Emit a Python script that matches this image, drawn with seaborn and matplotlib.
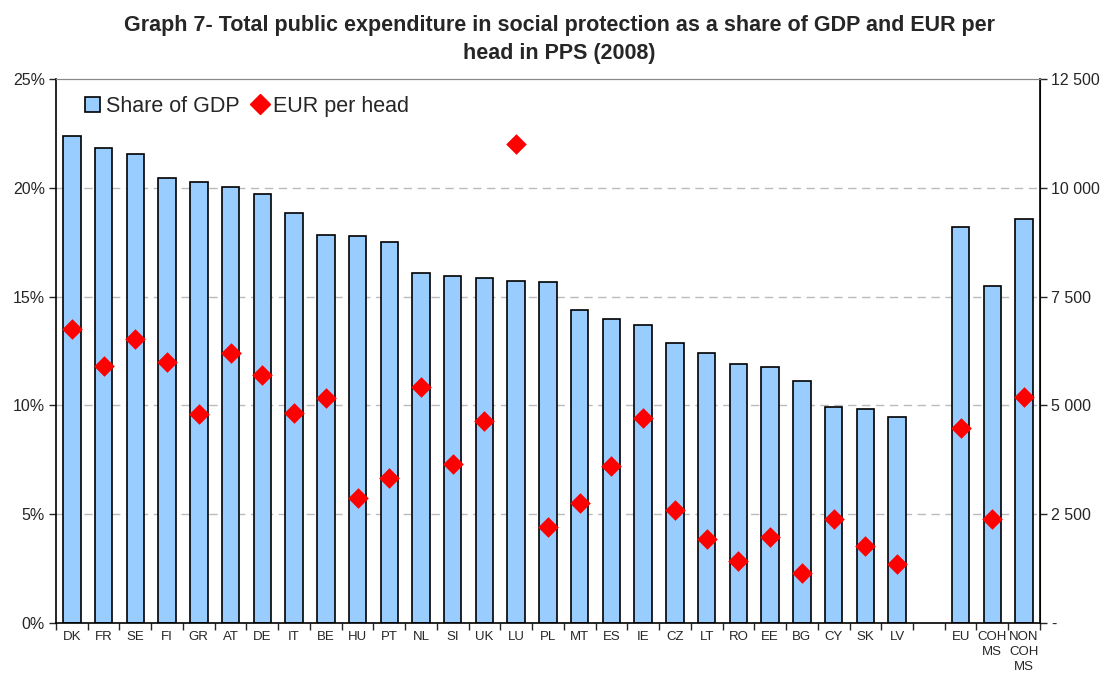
import matplotlib
matplotlib.use("Agg")
import matplotlib.pyplot as plt
import matplotlib.ticker as mticker
from matplotlib.patches import Patch
from matplotlib.lines import Line2D
import numpy as np
import pandas as pd
import seaborn as sns

countries = ["DK", "FR", "SE", "FI", "GR", "AT", "DE", "IT", "BE", "HU", "PT", "NL", "SI",
             "UK", "LU", "PL", "MT", "ES", "IE", "CZ", "LT", "RO", "EE", "BG", "CY", "SK", "LV",
             " ", "EU", "COH\nMS", "NON\nCOH\nMS"]
share_gdp = [22.38, 21.83, 21.54, 20.46, 20.27, 20.02, 19.71, 18.84, 17.83, 17.80, 17.50, 16.10, 15.93,
             15.87, 15.72, 15.66, 14.38, 13.97, 13.71, 12.87, 12.42, 11.90, 11.75, 11.14, 9.94, 9.85, 9.45,
             np.nan, 18.20, 15.49, 18.55]
eur_per_head = [6755, 5912, 6526, 6004, 4802, 6211, 5699, 4818, 5163, 2865, 3325, 5416, 3653,
                4642, 11006, 2213, 2765, 3615, 4703, 2604, 1923, 1425, 1984, 1142, 2397, 1777, 1356,
                np.nan, 4489, 2397, 5186]

df = pd.DataFrame({"country": countries, "share": share_gdp, "eur": eur_per_head})

sns.set_style("white")
plt.rcParams["font.family"] = ["Liberation Sans", "DejaVu Sans"]

fig = plt.figure(figsize=(11.15, 6.77), dpi=100)
ax = fig.add_axes([0.0502, 0.0798, 0.8825, 0.8035])

sns.barplot(data=df, x="country", y="share", order=countries, color="#99CCFF",
            saturation=1, edgecolor="black", linewidth=1.2, width=0.55, ax=ax)

ax2 = ax.twinx()
sns.stripplot(data=df, x="country", y="eur", order=countries, jitter=False,
              marker="D", color="#FF0000", size=10.5, linewidth=0, ax=ax2, zorder=5)

n = len(countries)
ax.set_xlim(-0.5, n - 0.5)
ax.set_ylim(0, 25)
ax2.set_ylim(0, 12500)

# y axes
ax.set_yticks(np.arange(0, 26, 5))
ax.yaxis.set_major_formatter(mticker.FuncFormatter(lambda v, p: f"{int(v)}%"))
ax2.set_yticks(np.arange(0, 12501, 2500))
ax2.yaxis.set_major_formatter(mticker.FuncFormatter(
    lambda v, p: "-" if v == 0 else f"{int(v):,}".replace(",", " ")))
ax.tick_params(axis="y", direction="out", length=5, width=1, labelsize=11.5, left=True, pad=3)
ax2.tick_params(axis="y", direction="out", length=5, width=1, labelsize=11.5, right=True, pad=3)

# x ticks at category boundaries, labels centred
ax.set_xticks(np.arange(-0.5, n, 1))
ax.set_xticklabels([])
ax.set_xticks(np.arange(n), minor=True)
ax.set_xticklabels(countries, minor=True, fontsize=9.5, linespacing=1.3)
ax.tick_params(axis="x", which="major", direction="out", length=5, width=1, bottom=True)
ax.tick_params(axis="x", which="minor", length=0, pad=6)
ax.set_xlabel("")
ax.set_ylabel("")
ax2.set_ylabel("")

# dashed grid at 5..20
for v in [5, 10, 15, 20]:
    ax.axhline(v, color="#BBBBBB", linestyle=(0, (6, 4)), linewidth=1, zorder=0)
ax.set_axisbelow(True)

for s in ["left", "bottom"]:
    ax.spines[s].set_color("black")
    ax.spines[s].set_linewidth(1.2)
ax.spines["top"].set_color("#888888")
ax2.spines["top"].set_color("#888888")
ax2.spines["right"].set_color("black")
ax2.spines["right"].set_linewidth(1.2)
ax2.spines["left"].set_visible(False)
ax2.spines["bottom"].set_visible(False)

handles = [Patch(facecolor="#99CCFF", edgecolor="black", linewidth=1.2),
           Line2D([], [], marker="D", color="#FF0000", linestyle="none", markersize=10)]
ax.legend(handles, ["Share of GDP", "EUR per head"], loc="upper left", frameon=False,
          fontsize=15.5, ncol=2, handlelength=0.7, handleheight=0.7, handletextpad=0.25,
          columnspacing=0.6, bbox_to_anchor=(0.01, 1.005))

fig.suptitle("Graph 7- Total public expenditure in social protection as a share of GDP and EUR per\nhead in PPS (2008)",
             x=0.502, y=0.978, fontsize=15.5, fontweight="bold", linespacing=1.45)

fig.savefig("out.png", dpi=100)
